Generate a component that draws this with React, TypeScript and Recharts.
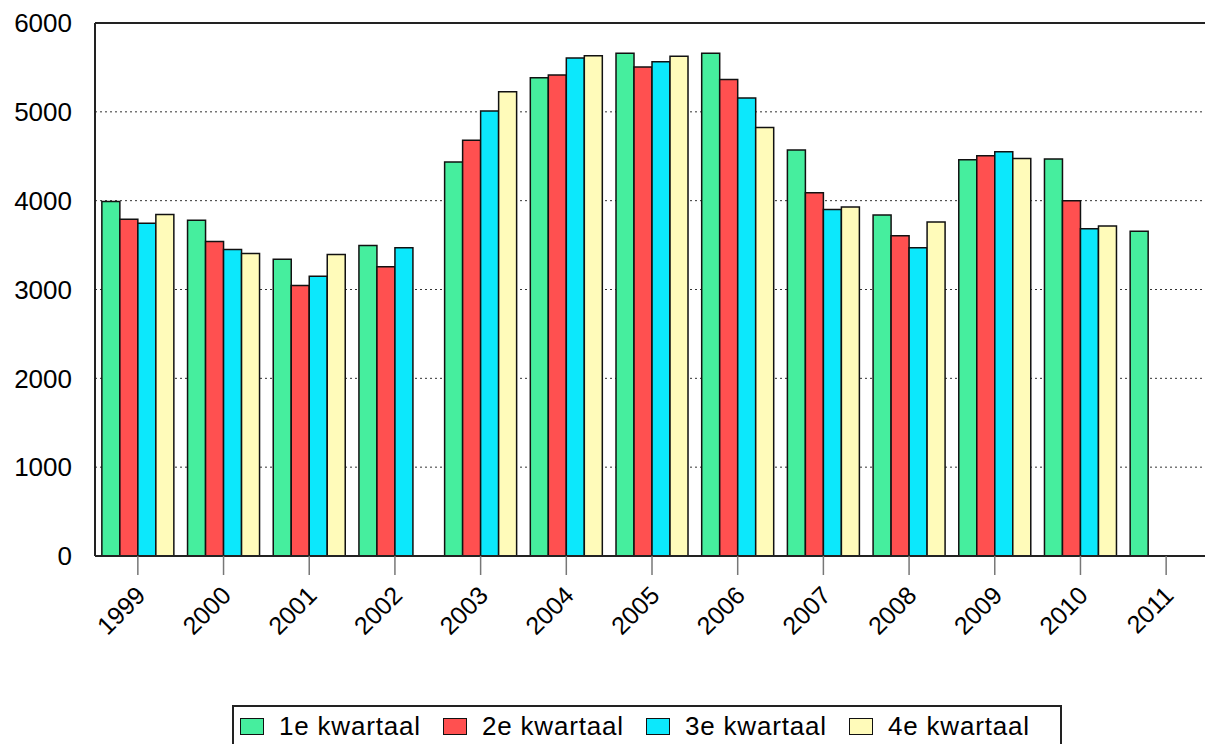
import React from 'react';
import { BarChart, Bar, XAxis, YAxis, CartesianGrid, Legend, ReferenceLine } from 'recharts';

const years = ['1999', '2000', '2001', '2002', '2003', '2004', '2005', '2006', '2007', '2008', '2009', '2010', '2011'];
const q1 = [3990, 3780, 3340, 3495, 4435, 5385, 5660, 5660, 4570, 3840, 4460, 4470, 3655];
const q2 = [3790, 3540, 3045, 3255, 4680, 5415, 5505, 5365, 4090, 3605, 4505, 4000, null];
const q3 = [3745, 3450, 3150, 3470, 5010, 5605, 5565, 5155, 3900, 3470, 4550, 3685, null];
const q4 = [3845, 3405, 3395, null, 5225, 5630, 5625, 4825, 3930, 3760, 4475, 3715, null];
const yTicks = [0, 1000, 2000, 3000, 4000, 5000, 6000];

const series = [
    { key: 'q1', name: '1e kwartaal', color: '#46EE9E' },
    { key: 'q2', name: '2e kwartaal', color: '#FF5050' },
    { key: 'q3', name: '3e kwartaal', color: '#0CE8FC' },
    { key: 'q4', name: '4e kwartaal', color: '#FFFBBA' },
];

const data = years.map((year, i) => ({ year, q1: q1[i], q2: q2[i], q3: q3[i], q4: q4[i] }));

const font = '"Liberation Sans", Arial, sans-serif';

const YearTick = ({ x, y, payload }: any) => {
    const ax = x + 9;
    const ay = y + 20;
    return (
        <text x={ax} y={ay} textAnchor="end" fontSize={25} fontFamily={font} fill="#000" transform={`rotate(-45, ${ax}, ${ay})`}>
            {payload.value}
        </text>
    );
};

const LegendBox = () => (
    <div
        style={{
            boxSizing: 'border-box',
            width: 830,
            height: 60,
            border: '2px solid #222',
            display: 'flex',
            paddingLeft: 6,
            paddingTop: 7,
            fontFamily: font,
            background: '#fff',
        }}
    >
        {series.map((s) => (
            <div key={s.key} style={{ display: 'flex', width: 203, flexShrink: 0 }}>
                <div
                    style={{
                        boxSizing: 'border-box',
                        width: 24,
                        height: 17,
                        marginTop: 4,
                        marginRight: 15,
                        background: s.color,
                        border: '1.5px solid #111',
                    }}
                />
                <span style={{ fontSize: 26, lineHeight: '25px', letterSpacing: 0.8, color: '#000', whiteSpace: 'nowrap' }}>{s.name}</span>
            </div>
        ))}
    </div>
);

export default function App() {
    return (
        <div style={{ position: 'fixed', left: 0, top: 0, width: 1205, height: 744, overflow: 'hidden', background: '#fff' }}>
            <BarChart
                width={1215}
                height={744}
                data={data}
                margin={{ top: 23, right: 6, left: 0, bottom: 0 }}
                barGap={0}
                barCategoryGap="8%"
            >
                <CartesianGrid vertical={false} stroke="#333" strokeDasharray="2 3" />
                <XAxis
                    dataKey="year"
                    height={188}
                    interval={0}
                    tickSize={19}
                    tick={<YearTick />}
                    axisLine={{ stroke: '#222', strokeWidth: 2 }}
                    tickLine={{ stroke: '#777', strokeWidth: 1.5 }}
                />
                <YAxis
                    width={95}
                    domain={[0, 6000]}
                    ticks={yTicks}
                    tickSize={0}
                    tickMargin={23}
                    tickLine={false}
                    axisLine={{ stroke: '#222', strokeWidth: 2 }}
                    tick={{ fontSize: 26, fontFamily: font, fill: '#000' }}
                />
                <ReferenceLine y={6000} stroke="#222" strokeWidth={2} />
                {series.map((s) => (
                    <Bar
                        key={s.key}
                        dataKey={s.key}
                        name={s.name}
                        fill={s.color}
                        stroke="#111"
                        strokeWidth={1.5}
                        isAnimationActive={false}
                    />
                ))}
                <Legend
                    layout="horizontal"
                    verticalAlign="middle"
                    align="center"
                    content={<LegendBox />}
                    wrapperStyle={{ left: 232, top: 705, width: 830, height: 60 }}
                />
            </BarChart>
        </div>
    );
}
